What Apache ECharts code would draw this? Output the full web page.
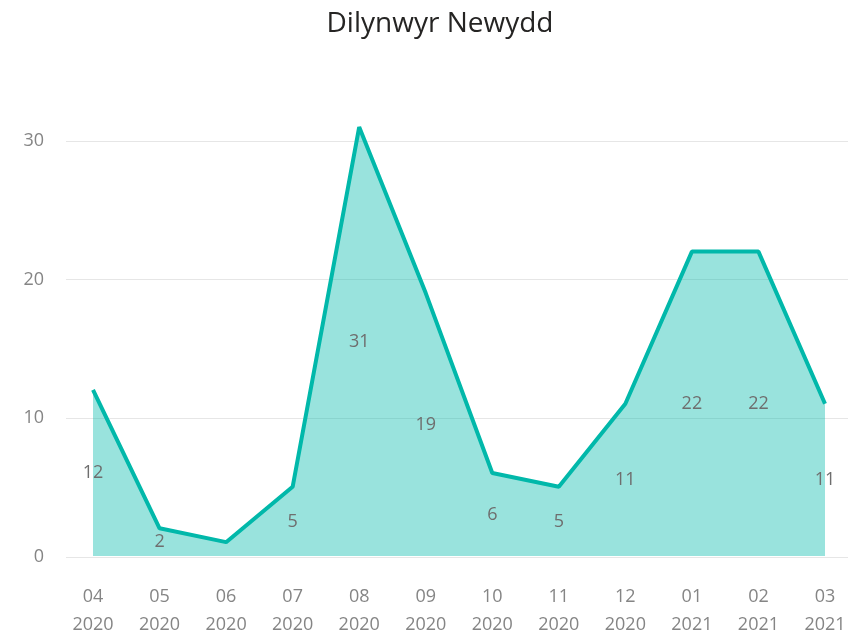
<!DOCTYPE html>
<html>
<head>
<meta charset="utf-8">
<script src="https://cdn.jsdelivr.net/npm/echarts@6/dist/echarts.min.js"></script>
<style>
  html, body { margin: 0; padding: 0; background: #fff; }
  #chart { width: 849px; height: 639px; }
</style>
</head>
<body>
<div id="chart"></div>
<script>
// data
const months = ['04', '05', '06', '07', '08', '09', '10', '11', '12', '01', '02', '03'];
const years = ['2020', '2020', '2020', '2020', '2020', '2020', '2020', '2020', '2020', '2021', '2021', '2021'];
const followers = [12, 2, 1, 5, 31, 19, 6, 5, 11, 22, 22, 11];
const yTicks = [0, 10, 20, 30];

const categories = months.map((m, i) => m + '\n' + years[i]);
const FONT = '"Open Sans", "Noto Sans", sans-serif';

function initFollowersChart() {
    const chart = echarts.init(document.getElementById('chart'));

    const option = {
        animation: false,
        title: {
            text: 'Dilynwyr Newydd',
            left: 435,
            textAlign: 'center',
            top: 5,
            textStyle: {
                fontFamily: FONT,
                fontSize: 28,
                fontWeight: 'normal',
                color: '#252423'
            }
        },
        // grid 0 only carries the y axis + gridlines, grid 1 carries the data
        grid: [
            { left: 66, right: 1, top: 99.4, bottom: 82 },
            { left: 93, right: 24, top: 99.4, bottom: 82 }
        ],
        xAxis: [{
            type: 'category',
            gridIndex: 0,
            data: categories,
            show: false
        }, {
            type: 'category',
            gridIndex: 1,
            data: categories,
            boundaryGap: false,
            axisLine: { show: false },
            axisTick: { show: false },
            splitLine: { show: false },
            axisLabel: {
                margin: 27,
                lineHeight: 28,
                interval: 0,
                fontFamily: FONT,
                fontSize: 18,
                color: '#858585'
            }
        }],
        yAxis: [{
            type: 'value',
            gridIndex: 0,
            min: yTicks[0],
            max: 33,
            interval: 10,
            axisLine: { show: false },
            axisTick: { show: false },
            axisLabel: {
                margin: 22,
                fontFamily: FONT,
                fontSize: 18,
                color: '#858585',
                formatter: v => (yTicks.indexOf(v) >= 0 ? v : '')
            },
            splitLine: { showMaxLine: false, lineStyle: { color: '#e6e6e6', width: 1 } }
        }, {
            type: 'value',
            gridIndex: 1,
            min: yTicks[0],
            max: 33,
            interval: 10,
            show: false,
            splitLine: { show: false }
        }],
        series: [{
            name: 'Dilynwyr Newydd',
            type: 'line',
            xAxisIndex: 1,
            yAxisIndex: 1,
            data: followers,
            symbol: 'none',
            lineStyle: { color: '#01B8AA', width: 4 },
            areaStyle: { color: 'rgba(1,184,170,0.4)', opacity: 1 },
            z: 2
        }, {
            // invisible bars, only to put the value labels half way up the area
            name: 'labels',
            type: 'bar',
            xAxisIndex: 1,
            yAxisIndex: 1,
            data: followers,
            barWidth: 1,
            silent: true,
            itemStyle: { color: 'rgba(0,0,0,0)' },
            label: {
                show: true,
                position: 'inside',
                fontFamily: FONT,
                fontSize: 18,
                color: '#6e6e6e',
                formatter: p => (p.value >= 2 ? p.value : '')
            },
            z: 3
        }]
    };

    chart.setOption(option);
}

window.onload = function() {
    initFollowersChart();
};
</script>
</body>
</html>
